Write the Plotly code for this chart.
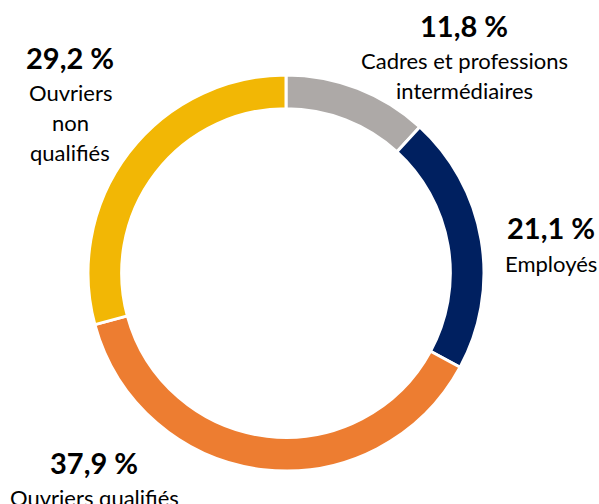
import plotly.graph_objects as go

categories = ["Cadres et professions intermédiaires", "Employés", "Ouvriers qualifiés", "Ouvriers non qualifiés"]
values = [11.8, 21.1, 37.9, 29.2]
colors = ["#ADA9A7", "#002060", "#ED7D31", "#F2B705"]
label_lines = [["Cadres et professions", "intermédiaires"], ["Employés"], ["Ouvriers qualifiés"], ["Ouvriers", "non", "qualifiés"]]
label_pos = [(464, 25), (551, 228), (94, 462), (70, 57)]  # pixel positions of value labels

W, H = 599, 504
cx, cy, R = 286, 273, 198

fig = go.Figure(go.Pie(
    labels=categories, values=values, hole=0.83, sort=False, direction="clockwise",
    rotation=0, marker=dict(colors=colors, line=dict(color="white", width=3)),
    textinfo="none", hoverinfo="label+percent", showlegend=False,
    domain=dict(x=[(cx - R) / W, (cx + R) / W], y=[(H - cy - R) / H, (H - cy + R) / H]),
))

ann = []
font = "Lato, Calibri, sans-serif"
for v, lines, (px, py) in zip(values, label_lines, label_pos):
    ann.append(dict(x=px / W, y=1 - py / H, xref="paper", yref="paper", showarrow=False,
                    text="<b>" + f"{v:.1f}".replace(".", ",") + " %</b>",
                    font=dict(family=font, size=29, color="black"), xanchor="center", yanchor="middle"))
    for i, line in enumerate(lines):
        ly = py + 35 + i * 30
        ann.append(dict(x=px / W, y=1 - ly / H, xref="paper", yref="paper", showarrow=False,
                        text=line, font=dict(family=font, size=22, color="black"),
                        xanchor="center", yanchor="middle"))

fig.update_layout(width=W, height=H, margin=dict(l=0, r=0, t=0, b=0),
                  paper_bgcolor="white", plot_bgcolor="white", annotations=ann)
fig.write_html("out.html", config={"displayModeBar": False},
               post_script="document.body.style.margin='0px';document.body.style.overflow='hidden';")
